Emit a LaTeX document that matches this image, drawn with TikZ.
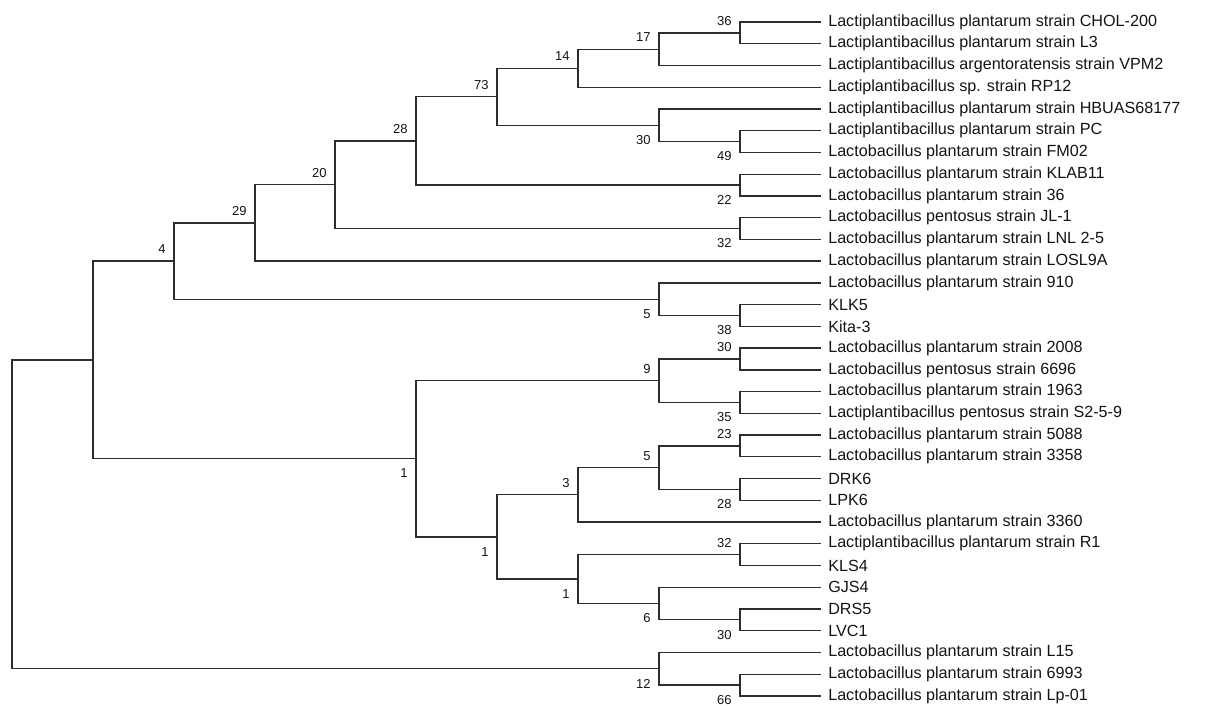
\documentclass[tikz,border=0pt]{standalone}
\usepackage{fontspec}
\setmainfont{Liberation Sans}
\usetikzlibrary{positioning}
\definecolor{twig}{RGB}{45,45,45}
\definecolor{ink}{RGB}{20,20,20}
\tikzset{
  branch/.style={draw=twig,line width=0.75pt,line cap=rect},
  leaf/.style={anchor=west,inner xsep=4.5pt,inner ysep=0pt,text=ink,
    font=\fontsize{9.2}{10}\selectfont},
  boot/.style={inner sep=0pt,text=ink,font=\fontsize{7.4}{8}\selectfont},
  boot above/.style={boot,anchor=south east,xshift=-4.6pt,yshift=4pt},
  boot below/.style={boot,anchor=north east,xshift=-4.6pt,yshift=-5.6pt},
}
\begin{document}
\begin{tikzpicture}[x=0.02cm,y=-0.02cm]
  \useasboundingbox (0,0) rectangle (1210,706);
  % tips
  \foreach \i/\txt in {1/Lactiplantibacillus plantarum strain CHOL-200,
      2/Lactiplantibacillus plantarum strain L3,
      3/Lactiplantibacillus argentoratensis strain VPM2,
      4/Lactiplantibacillus sp. strain RP12,
      5/Lactiplantibacillus plantarum strain HBUAS68177,
      6/Lactiplantibacillus plantarum strain PC,
      7/Lactobacillus plantarum strain FM02,
      8/Lactobacillus plantarum strain KLAB11,
      9/Lactobacillus plantarum strain 36,
      10/Lactobacillus pentosus strain JL-1,
      11/Lactobacillus plantarum strain LNL 2-5,
      12/Lactobacillus plantarum strain LOSL9A,
      13/Lactobacillus plantarum strain 910,
      14/KLK5,
      15/Kita-3,
      16/Lactobacillus plantarum strain 2008,
      17/Lactobacillus pentosus strain 6696,
      18/Lactobacillus plantarum strain 1963,
      19/Lactiplantibacillus pentosus strain S2-5-9,
      20/Lactobacillus plantarum strain 5088,
      21/Lactobacillus plantarum strain 3358,
      22/DRK6,
      23/LPK6,
      24/Lactobacillus plantarum strain 3360,
      25/Lactiplantibacillus plantarum strain R1,
      26/KLS4,
      27/GJS4,
      28/DRS5,
      29/LVC1,
      30/Lactobacillus plantarum strain L15,
      31/Lactobacillus plantarum strain 6993,
      32/Lactobacillus plantarum strain Lp-01}
    \node[leaf] (l\i) at (820,{22+21.74*(\i-1)}) {\txt};

  % inner nodes
  \coordinate (n36) at (740,32.9);
  \coordinate (n17) at (659,49.2);
  \coordinate (n14) at (578,68.2);
  \coordinate (n49) at (740,141.6);
  \coordinate (n30a) at (659,125.3);
  \coordinate (n73) at (497,96.8);
  \coordinate (n22) at (740,185.1);
  \coordinate (n28) at (416,140.9);
  \coordinate (n32) at (740,228.5);
  \coordinate (n20) at (335,184.7);
  \coordinate (n29) at (255,222.9);
  \coordinate (n38) at (740,315.5);
  \coordinate (n5a) at (659,299.2);
  \coordinate (n4) at (174,261.1);
  \coordinate (n30b) at (740,359.0);
  \coordinate (n35) at (740,402.5);
  \coordinate (n9) at (659,380.7);
  \coordinate (n23) at (740,445.9);
  \coordinate (n28b) at (740,489.4);
  \coordinate (n5b) at (659,467.7);
  \coordinate (n3) at (578,494.8);
  \coordinate (n32b) at (740,554.6);
  \coordinate (n30c) at (740,619.8);
  \coordinate (n6) at (659,603.5);
  \coordinate (n1c) at (578,579.1);
  \coordinate (n1b) at (497,536.9);
  \coordinate (n1a) at (416,458.8);
  \coordinate (n0b) at (93,360.0);
  \coordinate (n66) at (740,685.1);
  \coordinate (n12) at (659,668.8);
  \coordinate (root) at (12,514.4);

  % branches
  \draw[branch] (n36) |- (l1.west);  \draw[branch] (n36) |- (l2.west);
  \draw[branch] (n17) |- (n36);      \draw[branch] (n17) |- (l3.west);
  \draw[branch] (n14) |- (n17);      \draw[branch] (n14) |- (l4.west);
  \draw[branch] (n49) |- (l6.west);  \draw[branch] (n49) |- (l7.west);
  \draw[branch] (n30a) |- (l5.west); \draw[branch] (n30a) |- (n49);
  \draw[branch] (n73) |- (n14);      \draw[branch] (n73) |- (n30a);
  \draw[branch] (n22) |- (l8.west);  \draw[branch] (n22) |- (l9.west);
  \draw[branch] (n28) |- (n73);      \draw[branch] (n28) |- (n22);
  \draw[branch] (n32) |- (l10.west); \draw[branch] (n32) |- (l11.west);
  \draw[branch] (n20) |- (n28);      \draw[branch] (n20) |- (n32);
  \draw[branch] (n29) |- (n20);      \draw[branch] (n29) |- (l12.west);
  \draw[branch] (n38) |- (l14.west); \draw[branch] (n38) |- (l15.west);
  \draw[branch] (n5a) |- (l13.west); \draw[branch] (n5a) |- (n38);
  \draw[branch] (n4) |- (n29);       \draw[branch] (n4) |- (n5a);
  \draw[branch] (n30b) |- (l16.west); \draw[branch] (n30b) |- (l17.west);
  \draw[branch] (n35) |- (l18.west); \draw[branch] (n35) |- (l19.west);
  \draw[branch] (n9) |- (n30b);      \draw[branch] (n9) |- (n35);
  \draw[branch] (n23) |- (l20.west); \draw[branch] (n23) |- (l21.west);
  \draw[branch] (n28b) |- (l22.west); \draw[branch] (n28b) |- (l23.west);
  \draw[branch] (n5b) |- (n23);      \draw[branch] (n5b) |- (n28b);
  \draw[branch] (n3) |- (n5b);       \draw[branch] (n3) |- (l24.west);
  \draw[branch] (n32b) |- (l25.west); \draw[branch] (n32b) |- (l26.west);
  \draw[branch] (n30c) |- (l28.west); \draw[branch] (n30c) |- (l29.west);
  \draw[branch] (n6) |- (l27.west);  \draw[branch] (n6) |- (n30c);
  \draw[branch] (n1c) |- (n32b);     \draw[branch] (n1c) |- (n6);
  \draw[branch] (n1b) |- (n3);       \draw[branch] (n1b) |- (n1c);
  \draw[branch] (n1a) |- (n9);       \draw[branch] (n1a) |- (n1b);
  \draw[branch] (n0b) |- (n4);       \draw[branch] (n0b) |- (n1a);
  \draw[branch] (n66) |- (l31.west); \draw[branch] (n66) |- (l32.west);
  \draw[branch] (n12) |- (l30.west); \draw[branch] (n12) |- (n66);
  \draw[branch] (root) |- (n0b);     \draw[branch] (root) |- (n12);

  % bootstrap values
  \node[boot above] (b36) at (n36) {36};
  \node[boot above] (b17) at (n17) {17};
  \node[boot above] (b14) at (n14) {14};
  \node[boot above] (b73) at (n73) {73};
  \node[boot below] (b30a) at (n30a) {30};
  \node[boot below] (b49) at (n49) {49};
  \node[boot above] (b28) at (n28) {28};
  \node[boot below] (b22) at (n22) {22};
  \node[boot above] (b20) at (n20) {20};
  \node[boot below] (b32) at (n32) {32};
  \node[boot above] (b29) at (n29) {29};
  \node[boot above] (b4) at (n4) {4};
  \node[boot below] (b5a) at (n5a) {5};
  \node[boot below] (b38) at (n38) {38};
  \node[boot above] (b30b) at (n30b) {30};
  \node[boot above] (b9) at (n9) {9};
  \node[boot below] (b35) at (n35) {35};
  \node[boot above] (b23) at (n23) {23};
  \node[boot above] (b5b) at (n5b) {5};
  \node[boot below] (b28b) at (n28b) {28};
  \node[boot above] (b3) at (n3) {3};
  \node[boot below] (b1a) at (n1a) {1};
  \node[boot below] (b1b) at (n1b) {1};
  \node[boot above] (b32b) at (n32b) {32};
  \node[boot below] (b1c) at (n1c) {1};
  \node[boot below] (b6) at (n6) {6};
  \node[boot below] (b30c) at (n30c) {30};
  \node[boot below] (b12) at (n12) {12};
  \node[boot below] (b66) at (n66) {66};
\end{tikzpicture}
\end{document}
